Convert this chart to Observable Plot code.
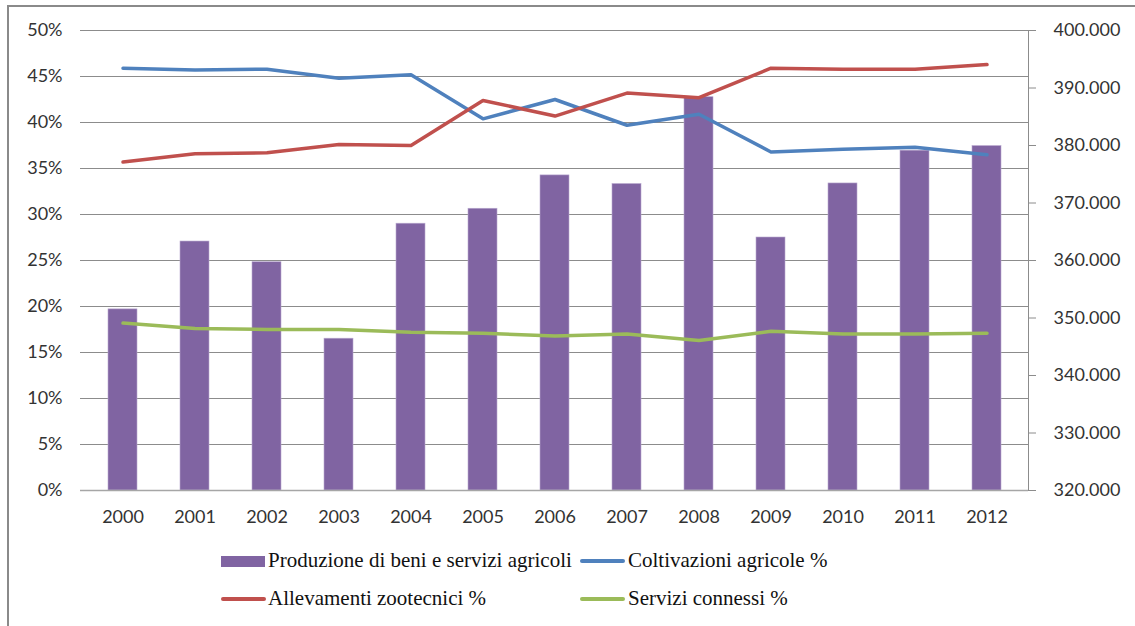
<!DOCTYPE html>
<html>
<head>
<meta charset="utf-8">
<script src="https://cdn.jsdelivr.net/npm/d3@7"></script>
<script src="https://cdn.jsdelivr.net/npm/@observablehq/plot@0.6"></script>
<style>
  html, body { margin: 0; padding: 0; background: #fff; }
  #wrap { position: relative; width: 1135px; height: 626px; overflow: hidden; }
  #frame { position: absolute; left: 7px; top: 5px; width: 1140px; height: 640px;
           border-top: 2px solid #8a8a8a; border-left: 2px solid #8a8a8a; }
  #chart { position: absolute; left: 0; top: 0; }
  .leg { position: absolute; font-family: "Liberation Serif", serif; font-size: 21px; color: #111; white-space: nowrap; line-height: 24px; }
  .sw { position: absolute; }
</style>
</head>
<body>
<div id="wrap">
  <div id="frame"></div>
  <div id="chart"></div>
  <div id="legend"></div>
</div>
<script>
const years = ["2000","2001","2002","2003","2004","2005","2006","2007","2008","2009","2010","2011","2012"];
const produzione = [351500, 363300, 359700, 346400, 366400, 369000, 374800, 373300, 388400, 364000, 373400, 379100, 379900];
const coltivazioni = [45.9, 45.7, 45.8, 44.8, 45.2, 40.4, 42.5, 39.7, 40.9, 36.8, 37.1, 37.3, 36.5];
const allevamenti = [35.7, 36.6, 36.7, 37.6, 37.5, 42.4, 40.7, 43.2, 42.7, 45.9, 45.8, 45.8, 46.3];
const servizi = [18.2, 17.6, 17.5, 17.5, 17.2, 17.1, 16.8, 17.0, 16.3, 17.3, 17.0, 17.0, 17.1];
const leftTicks = [0, 5, 10, 15, 20, 25, 30, 35, 40, 45, 50];
const rightTicks = [320000, 330000, 340000, 350000, 360000, 370000, 380000, 390000, 400000];
const seriesNames = ["Produzione di beni e servizi agricoli", "Coltivazioni agricole %", "Allevamenti zootecnici %", "Servizi connessi %"];
const colors = ["#8064a2", "#4f81bd", "#c0504d", "#9bbb59"];

const rMin = 320000, rMax = 400000, lMax = 50;
const toLeft = v => (v - rMin) / (rMax - rMin) * lMax;
const fromLeft = v => v / lMax * (rMax - rMin) + rMin;
const fmt = d3.formatLocale({decimal: ",", thousands: ".", grouping: [3], currency: ["", "€"]}).format(",.0f");

const bars = years.map((y, i) => ({year: y, value: produzione[i]}));
const lineData = [];
[coltivazioni, allevamenti, servizi].forEach((arr, k) => {
  arr.forEach((v, i) => lineData.push({year: years[i], value: v, series: seriesNames[k + 1]}));
});

const tickFont = "Lato, 'Open Sans', sans-serif";

const chart = Plot.plot({
  width: 1135,
  height: 530,
  marginLeft: 80,
  marginRight: 107,
  marginTop: 30,
  marginBottom: 40,
  style: {fontFamily: tickFont, fontSize: "18px", color: "#333", background: "transparent"},
  x: {domain: years, type: "band", paddingInner: 0.6, paddingOuter: 0.3, axis: null},
  y: {domain: [0, lMax], axis: null},
  color: {domain: seriesNames, range: colors},
  marks: [
    Plot.gridY(leftTicks, {stroke: "#8c8c8c", strokeOpacity: 1, strokeWidth: 1}),
    Plot.barY(bars, {x: "year", y1: 0, y2: d => toLeft(d.value), fill: colors[0], stroke: "#b9a9cf", strokeWidth: 0.6}),
    Plot.ruleY([0], {stroke: "#a6a6a6", strokeWidth: 1.5}),
    Plot.frame({anchor: "right", stroke: "#8c8c8c", strokeWidth: 1}),
    Plot.line(lineData, {x: "year", y: "value", z: "series", stroke: "series", strokeWidth: 3.5, strokeLinejoin: "round", strokeLinecap: "round"}),
    Plot.axisY(leftTicks, {anchor: "left", tickSize: 0, tickPadding: 18, tickFormat: d => d + "%", label: null, fontSize: 18}),
    Plot.axisY(rightTicks.map(toLeft), {anchor: "right", tickSize: 7, tickPadding: 18, stroke: "#8c8c8c", tickFormat: v => fmt(Math.round(fromLeft(v))), label: null, fontSize: 18}),
    Plot.axisX(years, {anchor: "bottom", tickSize: 0, tickPadding: 20, label: null, fontSize: 18})
  ]
});
document.getElementById("chart").appendChild(chart);

// legend (HTML, below the plot area)
const legend = document.getElementById("legend");
const items = [
  {name: seriesNames[0], color: colors[0], kind: "rect", sx: 221, tx: 268, y: 561, top: 548},
  {name: seriesNames[1], color: colors[1], kind: "line", sx: 580, tx: 628, y: 561, top: 548},
  {name: seriesNames[2], color: colors[2], kind: "line", sx: 221, tx: 268, y: 599, top: 586},
  {name: seriesNames[3], color: colors[3], kind: "line", sx: 580, tx: 628, y: 599, top: 586}
];
items.forEach(it => {
  const sw = document.createElement("div");
  sw.className = "sw";
  if (it.kind === "rect") {
    Object.assign(sw.style, {left: it.sx + "px", top: (it.y - 5) + "px", width: "44px", height: "11px", background: it.color});
  } else {
    Object.assign(sw.style, {left: it.sx + "px", top: (it.y - 2) + "px", width: "45px", height: "4px", background: it.color, borderRadius: "2px"});
  }
  legend.appendChild(sw);
  const t = document.createElement("div");
  t.className = "leg";
  t.textContent = it.name;
  Object.assign(t.style, {left: it.tx + "px", top: it.top + "px"});
  legend.appendChild(t);
});
</script>
</body>
</html>
